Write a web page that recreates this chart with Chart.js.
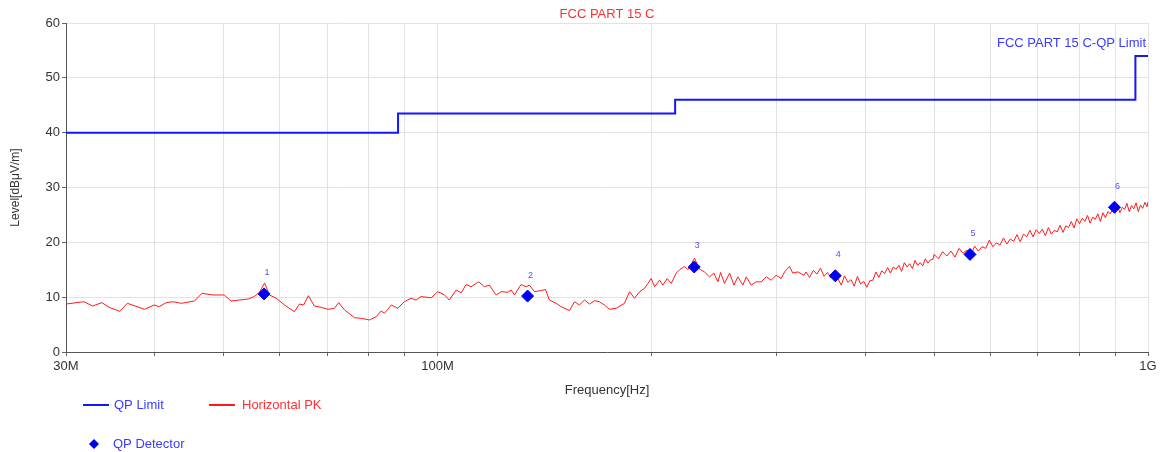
<!DOCTYPE html>
<html>
<head>
<meta charset="utf-8">
<script src="https://cdn.jsdelivr.net/npm/chart.js@4/dist/chart.umd.min.js"></script>
<style>
  html, body { margin: 0; padding: 0; background: #fff; }
  #wrap { width: 1162px; height: 452px; }
</style>
</head>
<body>
<div id="wrap"><canvas id="emi" width="1162" height="452"></canvas></div>
<script>
// QP limit (step line), frequencies in MHz
const limitFreq = [30, 88, 216, 960, 1000];
const limitLevel = [40, 43.5, 46, 54, 54];

// Horizontal peak sweep, MHz / dBuV/m
const pkFreq = [
  30.0, 31.8, 32.7, 33.7, 34.5, 35.7, 36.6, 38.7, 39.9, 40.6, 41.5, 42.4, 43.6, 45.5, 46.6, 48.3,
  50.1, 51.2, 52.6, 54.2, 55.2, 56.1, 57.1, 58.0, 59.3, 60.9, 62.9, 63.9, 64.8, 65.8, 67.1, 68.6,
  70.1, 71.6, 72.6, 74.0, 76.4, 78.1, 80.2, 82.0, 83.3, 84.2, 86.1, 87.9, 89.8, 91.8, 93.3, 94.8,
  98.0, 100.1, 102.3, 103.9, 106.2, 108.0, 109.7, 111.5, 114.3, 116.4, 118.3, 120.9, 122.9, 125.6,
  127.0, 128.3, 131.1, 133.3, 134.7, 136.9, 139.9, 141.9, 143.7, 146.9, 149.3, 153.4, 155.9, 158.4,
  161.0, 163.7, 166.3, 169.0, 171.8, 174.6, 178.4, 183.3, 186.3, 189.4, 192.5, 195.6, 197.7, 199.9,
  202.1, 205.4, 207.6, 210.5, 213.3, 216.8, 219.1, 222.7, 225.1, 230.0, 233.8, 237.6, 241.5, 244.9,
  248.1, 250.3, 253.5, 257.7, 261.3, 264.7, 269.0, 272.0, 276.4, 280.9, 285.5, 290.2, 294.9, 299.7,
  304.6, 307.9, 312.9, 316.3, 321.5, 327.8,
  330, 334, 338, 342, 346, 350, 354, 358, 362, 366, 370, 374, 378, 382, 386, 390, 394, 398, 402,
  406, 410, 414, 418, 422, 426, 430, 434, 438, 442, 446, 450, 454, 458, 462, 466, 470, 474, 478,
  482, 486, 490, 494, 498,
  500, 507, 514, 521, 528, 535, 542, 549, 556, 563, 570, 577, 584, 591, 598, 605, 612, 619, 626,
  633, 640, 647, 654, 661, 668, 675, 682, 689, 696, 703, 710, 717, 724, 731, 738, 745, 752, 759,
  766, 773, 780, 787, 794, 801, 808, 815, 822, 829, 836, 843, 850, 857, 864, 871, 878, 885, 892,
  899, 906, 913, 920, 927, 934, 941, 948, 955, 962, 969, 976, 983, 990, 997, 1000
];
const pkLevel = [
  8.75, 9.17, 8.39, 9.0, 8.15, 7.42, 8.88, 7.78, 8.57, 8.27, 9.0, 9.17, 8.88, 9.3, 10.7, 10.4,
  10.4, 9.3, 9.48, 9.67, 10.1, 10.8, 12.6, 10.4, 9.8, 8.57, 7.35, 8.75, 8.57, 10.27, 8.39, 8.15,
  7.78, 7.97, 9.0, 7.66, 6.26, 6.14, 5.84, 6.44, 7.48, 7.05, 8.57, 7.97, 9.17, 9.8, 9.48, 10.1,
  9.9, 11.0, 10.4, 9.48, 11.3, 10.8, 12.3, 11.9, 12.8, 11.9, 12.2, 10.4, 11.0, 10.9,
  11.3, 10.4, 12.3, 11.9, 12.2, 11.0, 11.2, 11.4, 9.48, 8.88, 8.27, 7.54, 9.17, 8.57,
  9.48, 8.75, 9.36, 9.17, 8.57, 7.78, 7.97, 8.88, 11.0, 9.8, 11.0, 11.6, 12.5, 13.4,
  11.9, 13.1, 12.2, 13.4, 12.5, 14.4, 15.0, 15.6, 15.0, 17.1, 15.1, 14.6, 13.7, 14.4,
  12.8, 14.5, 12.5, 14.4, 12.2, 13.7, 12.2, 13.7, 12.2, 12.8, 12.8, 13.7, 13.1, 14.0,
  13.4, 14.6, 15.6, 14.4, 14.6, 14.0,
  14.6, 13.6, 14.9, 14.2, 15.3, 13.8, 14.5, 13.5, 14.9, 13.4, 12.2, 13.9, 12.7, 13.2, 12.0, 13.8,
  12.4, 12.9, 11.8, 13.0, 13.1, 14.6, 13.6, 14.8, 14.3, 15.4, 14.4, 15.5, 15.1, 15.8, 14.7, 16.3,
  15.5, 16.1, 15.2, 16.7, 15.8, 16.3, 15.7, 17.0, 16.2, 16.8, 16.9,
  17.8, 17.0, 18.3, 17.5, 18.4, 17.3, 18.9, 18.0, 18.6, 17.6, 19.3, 18.4, 19.2, 18.9, 20.4, 19.2,
  19.9, 19.5, 20.8, 19.7, 20.6, 20.2, 21.4, 20.1, 21.5, 21.0, 22.2, 21.0, 22.3, 21.6, 22.4, 21.2,
  22.7, 21.5, 22.2, 21.9, 23.1, 21.8, 23.0, 22.7, 23.8, 22.6, 24.3, 23.4, 24.4, 23.8, 24.9, 23.5,
  24.6, 24.2, 25.2, 23.8, 25.4, 24.5, 25.6, 25.2, 26.0, 25.3, 26.6, 25.4, 26.4, 26.0, 27.1, 25.6,
  26.7, 26.1, 27.2, 25.6, 26.8, 26.2, 27.3, 26.5, 27.4
];

// QP detector readings
const qpFreq = [57.0, 133.9, 229.8, 363.0, 561.7, 897.0];
const qpLevel = [10.6, 10.2, 15.5, 13.9, 17.8, 26.4];

// x grid / tick positions and which of them get a label
const xTicks = [30, 40, 50, 60, 70, 80, 90, 100, 200, 300, 400, 500, 600, 700, 800, 900, 1000];
const xLabels = { 30: "30M", 100: "100M", 1000: "1G" };

const FONT = '"Liberation Sans", Arial, sans-serif';
const pts = (xs, ys) => xs.map((f, i) => ({ x: f, y: ys[i] }));

// titles, limit name, marker numbers and legend
const annotate = {
  id: "annotate",
  afterDraw(chart) {
    const ctx = chart.ctx;
    const a = chart.chartArea;
    const ys = chart.scales.y;
    const cx = (a.left + a.right) / 2;
    ctx.save();
    ctx.textBaseline = "middle";

    ctx.font = "13px " + FONT;
    ctx.textAlign = "center";
    ctx.fillStyle = "#ff3030";
    ctx.fillText("FCC PART 15 C", cx, 14);

    ctx.fillStyle = "#3a3aff";
    ctx.textAlign = "right";
    ctx.fillText("FCC PART 15 C-QP Limit", a.right - 2, ys.getPixelForValue(54) - 12);

    ctx.fillStyle = "#333";
    ctx.textAlign = "center";
    ctx.fillText("Frequency[Hz]", cx, 390);

    ctx.save();
    ctx.translate(16, (a.top + a.bottom) / 2);
    ctx.rotate(-Math.PI / 2);
    ctx.font = "12px " + FONT;
    ctx.fillText("Level[dB\u03bcV/m]", 0, 0);
    ctx.restore();

    // numbers over the QP markers
    ctx.font = "9px " + FONT;
    ctx.fillStyle = "#5050ff";
    chart.getDatasetMeta(0).data.forEach((p, i) => {
      ctx.fillText(String(i + 1), p.x + 3, p.y - 21);
    });

    // legend
    ctx.font = "13px " + FONT;
    ctx.textAlign = "left";
    ctx.lineWidth = 2;
    ctx.strokeStyle = "#1515ff";
    ctx.beginPath(); ctx.moveTo(83, 405); ctx.lineTo(109, 405); ctx.stroke();
    ctx.fillStyle = "#3a3aff";
    ctx.fillText("QP Limit", 114, 405);

    ctx.strokeStyle = "#ff1a1a";
    ctx.beginPath(); ctx.moveTo(209, 405); ctx.lineTo(235, 405); ctx.stroke();
    ctx.fillStyle = "#ff3030";
    ctx.fillText("Horizontal PK", 242, 405);

    ctx.fillStyle = "#0000ee";
    ctx.beginPath();
    ctx.moveTo(94, 439); ctx.lineTo(99, 444); ctx.lineTo(94, 449); ctx.lineTo(89, 444);
    ctx.closePath(); ctx.fill();
    ctx.fillStyle = "#3a3aff";
    ctx.fillText("QP Detector", 113, 444);
    ctx.restore();
  }
};

new Chart(document.getElementById("emi"), {
  type: "line",
  data: {
    datasets: [
      {
        label: "QP Detector",
        data: pts(qpFreq, qpLevel),
        showLine: false,
        pointStyle: "rectRot",
        pointRadius: 6,
        backgroundColor: "#0000ee",
        borderColor: "#0000ee",
        order: 0
      },
      {
        label: "Horizontal PK",
        data: pts(pkFreq, pkLevel),
        borderColor: "#ff1a1a",
        borderWidth: 1,
        pointRadius: 0,
        tension: 0,
        order: 1
      },
      {
        label: "QP Limit",
        data: pts(limitFreq, limitLevel),
        borderColor: "#1515ff",
        borderWidth: 2,
        pointRadius: 0,
        stepped: true,
        order: 2
      }
    ]
  },
  options: {
    responsive: false,
    animation: false,
    events: [],
    layout: { padding: { left: 0, top: 23, right: 14, bottom: 70 } },
    plugins: { legend: { display: false }, tooltip: { enabled: false }, title: { display: false } },
    scales: {
      x: {
        type: "logarithmic",
        min: 30,
        max: 1000,
        afterBuildTicks: s => { s.ticks = xTicks.map(v => ({ value: v })); },
        afterFit: s => { s.height = 30; },
        ticks: {
          autoSkip: false,
          maxRotation: 0,
          padding: 3,
          color: "#333",
          font: { family: FONT, size: 13 },
          callback: v => xLabels[v] || ""
        },
        grid: { color: "#e2e2e2", tickColor: "#666", tickLength: 4, drawTicks: true },
        border: { color: "#555", width: 1 }
      },
      y: {
        min: 0,
        max: 60,
        afterFit: s => { s.width = 66; },
        ticks: {
          stepSize: 10,
          padding: 2,
          color: "#333",
          font: { family: FONT, size: 13 }
        },
        grid: { color: "#e2e2e2", tickColor: "#666", tickLength: 4, drawTicks: true },
        border: { color: "#555", width: 1 }
      }
    }
  },
  plugins: [annotate]
});
</script>
</body>
</html>
